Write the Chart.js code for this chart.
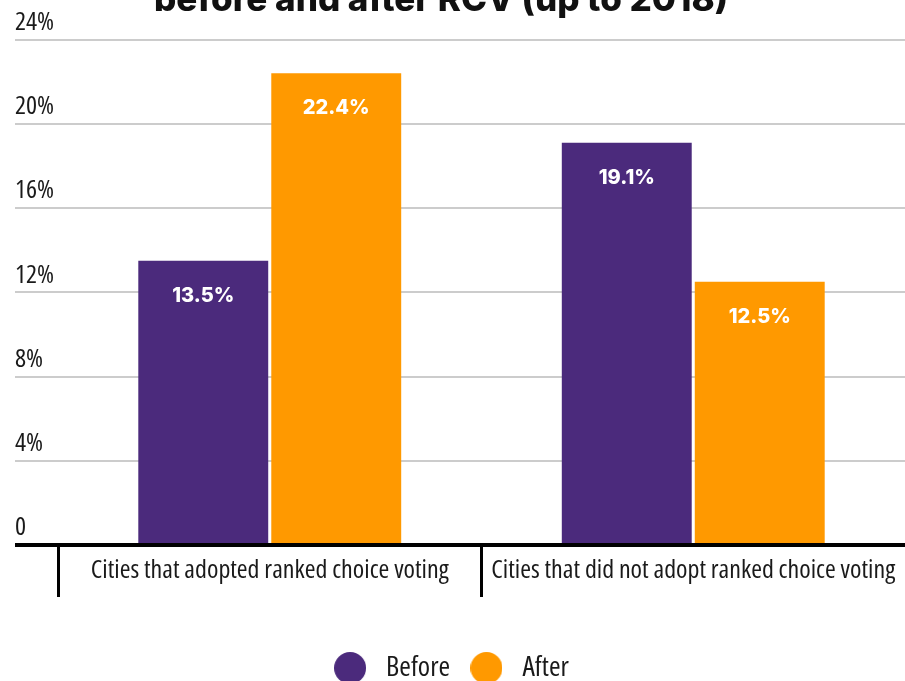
<!DOCTYPE html>
<html>
<head>
<meta charset="utf-8">
<script src="https://cdn.jsdelivr.net/npm/chart.js@4"></script>
<style>
  html, body { margin: 0; padding: 0; background: #fff; overflow: hidden; }
  .frame { position: absolute; left: 0; top: -44px; width: 905px; height: 736px; }
</style>
</head>
<body>
<div class="frame"><canvas id="rcv-chart"></canvas></div>
<script>
const titleLine = "before and after RCV (up to 2018)";
const categories = [
  "Cities that adopted ranked choice voting",
  "Cities that did not adopt ranked choice voting",
];
const seriesNames = ["Before", "After"];
const beforeValues = [13.5, 19.1];
const afterValues = [22.4, 12.5];
const yTicks = [0, 4, 8, 12, 16, 20, 24];
const yTickLabels = ["0", "4%", "8%", "12%", "16%", "20%", "24%"];
const seriesColors = ["#4b2a7c", "#ff9900"];

// Chart.js puts the weight straight into the canvas font string, so the
// stretch keyword rides along there to get the condensed Open Sans cut
const narrowFont = (size) => ({ family: "'Open Sans', sans-serif", weight: "condensed", size });
const heavyFamily = "Inter, 'Noto Sans', sans-serif";

// round swatches for the legend, one per series colour
function makeDot(color) {
  const c = document.createElement("canvas");
  c.width = 32;
  c.height = 32;
  const g = c.getContext("2d");
  g.fillStyle = color;
  g.beginPath();
  g.arc(16, 16, 16, 0, Math.PI * 2);
  g.fill();
  return c;
}
const legendDots = seriesColors.map(makeDot);

// white value text just inside the top of each bar
const barValueLabels = {
  id: "barValueLabels",
  afterDatasetsDraw(chart) {
    const ctx = chart.ctx;
    ctx.save();
    ctx.fillStyle = "#ffffff";
    ctx.font = `800 20px ${heavyFamily}`;
    ctx.textAlign = "center";
    ctx.textBaseline = "middle";
    chart.data.datasets.forEach((dataset, i) => {
      chart.getDatasetMeta(i).data.forEach((bar, j) => {
        ctx.fillText(`${dataset.data[j].toFixed(1)}%`, bar.x, bar.y + 35);
      });
    });
    ctx.restore();
  },
};

// title and legend sit a little left of the padded box centre
const shiftBlocks = {
  id: "shiftBlocks",
  afterLayout(chart) {
    [[chart.titleBlock, -19], [chart.legend, -11.5]].forEach(([block, dx]) => {
      if (!block) return;
      block.left += dx;
      block.right += dx;
    });
  },
};

new Chart(document.getElementById("rcv-chart"), {
  type: "bar",
  data: {
    labels: categories,
    datasets: [beforeValues, afterValues].map((values, i) => ({
      label: seriesNames[i],
      data: values,
      backgroundColor: seriesColors[i],
      categoryPercentage: 0.628,
      barPercentage: 0.977,
    })),
  },
  options: {
    responsive: true,
    maintainAspectRatio: false,
    animation: false,
    layout: { padding: { left: 15, right: 0, top: 0, bottom: 0 } },
    plugins: {
      title: {
        display: true,
        text: titleLine,
        color: "#111111",
        font: { family: heavyFamily, size: 35, weight: 800 },
        padding: { top: 23, bottom: 18.5 },
      },
      legend: {
        position: "bottom",
        labels: {
          usePointStyle: true,
          pointStyleWidth: 44,
          padding: 14.3,
          color: "#1a1a1a",
          font: narrowFont(28),
          generateLabels(chart) {
            const items = Chart.defaults.plugins.legend.labels.generateLabels(chart);
            items.forEach((item, i) => { item.pointStyle = legendDots[i]; });
            return items;
          },
        },
      },
      tooltip: { enabled: false },
    },
    scales: {
      x: {
        afterFit: (axis) => {
          axis.height = 94.7;
          axis.paddingLeft = 0;
          axis.paddingRight = 0;
        },
        border: { display: false },
        grid: {
          drawOnChartArea: false,
          tickLength: 52,
          lineWidth: 3,
          tickColor: (ctx) => (ctx.index < categories.length ? "#000000" : "transparent"),
        },
        ticks: {
          padding: -42.4,
          maxRotation: 0,
          autoSkip: false,
          color: "#1a1a1a",
          font: narrowFont(26),
        },
      },
      y: {
        min: yTicks[0],
        max: yTicks[yTicks.length - 1],
        afterFit: (axis) => {
          axis.width = 43;
          axis.paddingTop = 0;
          axis.paddingBottom = 0;
        },
        border: { display: false },
        grid: {
          tickLength: 43,
          color: (ctx) => (ctx.tick && ctx.tick.value === 0 ? "#000000" : "#cccccc"),
          lineWidth: (ctx) => (ctx.tick && ctx.tick.value === 0 ? 4 : 2),
        },
        ticks: {
          stepSize: 4,
          crossAlign: "far",
          labelOffset: -17,
          padding: 0,
          color: "#1a1a1a",
          font: narrowFont(26),
          callback: (value) => yTickLabels[yTicks.indexOf(value)],
        },
      },
    },
  },
  plugins: [barValueLabels, shiftBlocks],
});
</script>
</body>
</html>
